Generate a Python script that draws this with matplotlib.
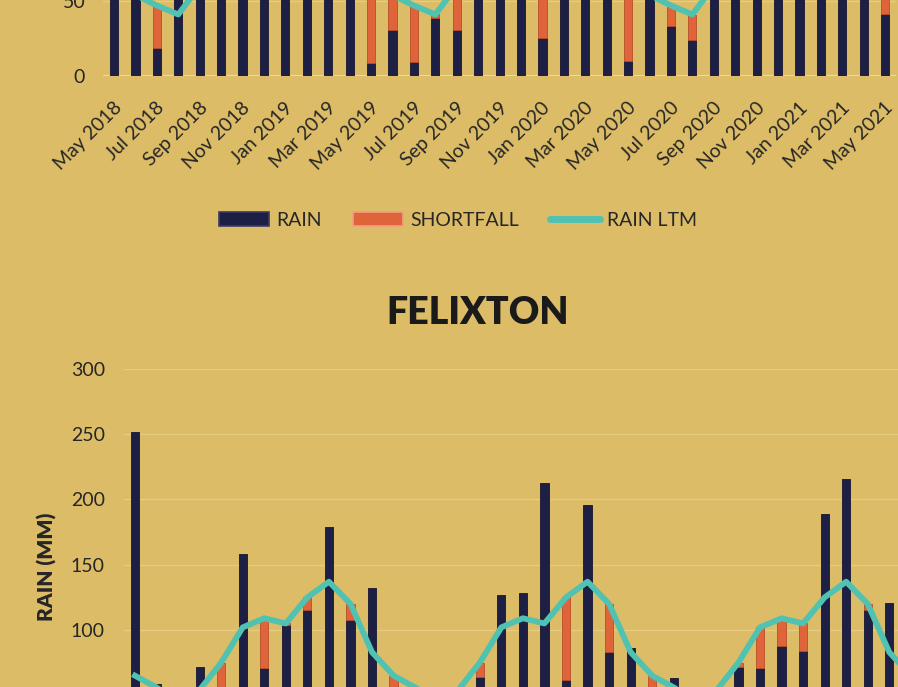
import numpy as np
import pandas as pd
import matplotlib
matplotlib.use("Agg")
import matplotlib.pyplot as plt
from matplotlib.patches import Patch
from matplotlib.lines import Line2D
from matplotlib.transforms import ScaledTranslation

# ---------------- data ----------------
months = pd.date_range("2018-05-01", periods=37, freq="MS")
month_labels = [d.strftime("%b %Y") for d in months]

# upper chart (station name cut off in the reference)
top_rain = [75, 62, 18.9, 58, 90, 120, 95, 140, 110, 130, 150, 80,
            8.4, 31, 9.6, 38.4, 31, 95, 160, 130, 25.6, 140, 110, 90,
            10.2, 70, 33.3, 24, 65, 100, 115, 150, 170, 160, 120, 85,
            41.3]
top_ltm = [58, 54, 47, 41, 60, 85, 100, 105, 110, 105, 95, 65,
           58, 54, 47, 41, 60, 85, 100, 105, 110, 105, 95, 65,
           58, 54, 47, 41, 60, 85, 100, 105, 110, 105, 95, 65,
           58]

# FELIXTON
fel_rain = [252, 59, 30, 72, 40, 158, 71, 104, 115, 179, 108, 132,
            35, 20, 25, 30, 64, 127, 128, 213, 62, 196, 83, 86,
            40, 63, 15, 30, 72, 71, 88, 84, 189, 216, 115, 121,
            50]
fel_ltm = [65, 56, 45, 54, 75, 102, 109, 105, 125, 137, 120, 83,
           65, 56, 45, 54, 75, 102, 109, 105, 125, 137, 120, 83,
           65, 56, 45, 54, 75, 102, 109, 105, 125, 137, 120, 83,
           65]

series_names = ["RAIN", "SHORTFALL", "RAIN LTM"]
y_ticks = [0, 50, 100, 150, 200, 250, 300]

# ---------------- style ----------------
BG = "#DCBC66"
DARK = "#1E1F45"
ORANGE = "#E0643A"
TEAL = "#50C2B2"
GRID = "#E5CB84"
TXT = "#262626"
FONT = ["Lato", "DejaVu Sans"]
plt.rcParams["font.family"] = FONT

W, H = 898, 687
fig = plt.figure(figsize=(W / 100, H / 100), dpi=100, facecolor=BG)


def px_axes(x0, x1, y_top, y_bottom):
    return fig.add_axes([x0 / W, 1 - y_bottom / H, (x1 - x0) / W, (y_bottom - y_top) / H])


def draw(ax, rain, ltm, ypad):
    rain = np.array(rain, dtype=float)
    ltm = np.array(ltm, dtype=float)
    short = np.clip(ltm - rain, 0, None)
    x = np.arange(len(rain))
    ax.set_facecolor("none")
    ax.set_xlim(-0.5, len(rain) - 0.5)
    ax.set_ylim(0, 300)
    ax.set_yticks(y_ticks)
    ax.grid(axis="y", color=GRID, lw=1.0, zorder=0)
    ax.set_axisbelow(True)
    ax.bar(x, rain, width=0.38, color=DARK, edgecolor="#15152f", lw=0.6, zorder=2)
    m = short > 0
    ax.bar(x[m], short[m], width=0.38, bottom=rain[m], color=ORANGE,
           edgecolor="#b84e2c", lw=0.6, zorder=2)
    ax.plot(x, ltm, color=TEAL, lw=4.2, solid_joinstyle="round", zorder=3)
    for s in ax.spines.values():
        s.set_visible(False)
    ax.tick_params(axis="both", length=0, labelsize=14, colors=TXT)
    ax.tick_params(axis="y", pad=ypad)
    ax.set_xticks(x[::2])
    ax.set_xticklabels(month_labels[::2], rotation=45, ha="right", va="center",
                       rotation_mode="anchor")
    ax.tick_params(axis="x", pad=21)
    off = ScaledTranslation(5 / 100, 0, fig.dpi_scale_trans)
    for lab in ax.get_xticklabels():
        lab.set_transform(lab.get_transform() + off)


# upper chart: baseline at y=76 px, 1.5 px per mm
ax1 = px_axes(103.3, 895.9, 76 - 450, 76)
draw(ax1, top_rain, top_ltm, ypad=13)
ax1.axhline(0, color="#EDDDB0", lw=1.3, zorder=1)

# FELIXTON chart: 300 at y=369 px, 1.305 px per mm
ax2 = px_axes(124.2, 921.6, 369, 760.5)
draw(ax2, fel_rain, fel_ltm, ypad=14)

fig.text(47 / W, 1 - 567 / H, "RAIN (MM)", fontsize=15, fontweight="heavy",
         color=TXT, rotation=90, ha="center", va="center")

fig.text(478 / W, 1 - 313 / H, "FELIXTON", fontsize=27, fontweight="heavy",
         color="#1a1a1a", ha="center", va="center")

handles = [Patch(facecolor=DARK, edgecolor="#3a3b66", lw=1.2),
           Patch(facecolor=ORANGE, edgecolor="#f0a080", lw=1.2),
           Line2D([0], [0], color=TEAL, lw=5, solid_capstyle="round")]
fig.legend(handles, series_names, loc="center", bbox_to_anchor=(458 / W, 1 - 220 / H),
           ncol=3, frameon=False, fontsize=14, handlelength=2.6, handleheight=0.75,
           handletextpad=0.35, columnspacing=1.6, labelcolor=TXT)

fig.savefig("out.png", dpi=100, facecolor=BG)
